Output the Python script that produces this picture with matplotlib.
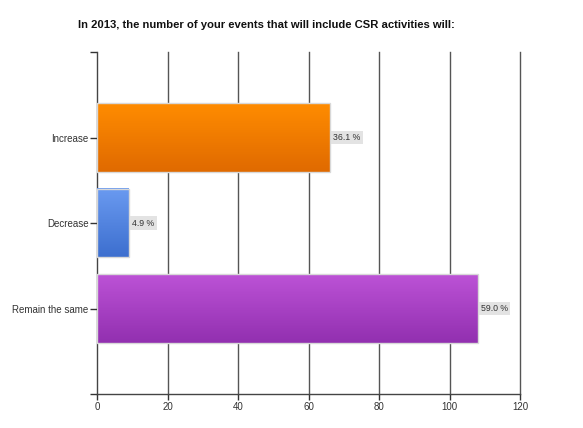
import numpy as np
import matplotlib
matplotlib.use("Agg")
import matplotlib.pyplot as plt
from matplotlib.colors import LinearSegmentedColormap

plt.rcParams['font.family'] = ['Liberation Sans', 'DejaVu Sans']

# data
categories = ['Increase', 'Decrease', 'Remain the same']
counts = [66, 9, 108]
pct_labels = ['36.1 %', '4.9 %', '59.0 %']
xticks = [0, 20, 40, 60, 80, 100, 120]

# gradient colours (top, bottom) per bar
bar_colors = [('#ff8c00', '#e06a00'),
              ('#6a9af0', '#3d6fcf'),
              ('#bc52d6', '#9230b0')]

fig = plt.figure(figsize=(5.83, 4.28), dpi=100)
ax = fig.add_axes([0.1664, 0.0794, 0.7256, 0.799])

ypos = np.arange(1, len(categories) + 1)
h = 0.8
grad = np.linspace(0, 1, 64).reshape(-1, 1)

for i, (y, v) in enumerate(zip(ypos, counts)):
    top, bot = bar_colors[i]
    cmap = LinearSegmentedColormap.from_list('g%d' % i, [top, bot])
    # y axis inverted: y-h/2 is the top of the bar
    ax.imshow(grad, cmap=cmap, aspect='auto', zorder=3,
              extent=[0, v, y + h/2, y - h/2], origin='upper')
    ax.barh(y, v, height=h, facecolor='none', edgecolor='#d8d8d8', lw=1, zorder=4)
    ax.text(v + 1, y, pct_labels[i], va='center', ha='left', fontsize=6.3,
            color='#333333', zorder=5,
            bbox=dict(boxstyle='square,pad=0.25', fc='#e3e3e3', ec='none'))

ax.set_xlim(0, 120)
ax.set_ylim(4, 0)
ax.set_xticks(xticks)
ax.set_yticks(ypos)
ax.set_yticks([0, 4], minor=True)
ax.set_yticklabels(categories)
ax.tick_params(axis='both', which='both', labelsize=7, colors='#333333', length=5, width=1)
ax.tick_params(axis='y', pad=1)
ax.tick_params(axis='x', length=4, pad=2)

for x in xticks[1:]:
    ax.axvline(x, color='#555555', lw=1, zorder=1, clip_on=False)

for s in ['top', 'right']:
    ax.spines[s].set_visible(False)
for s in ['left', 'bottom']:
    ax.spines[s].set_color('#444444')
    ax.spines[s].set_linewidth(1)

fig.text(266/583, 1 - 25/428, 'In 2013, the number of your events that will include CSR activities will:',
         ha='center', va='center', fontsize=8.1, fontweight='bold', color='#111111')

fig.savefig('out.png', dpi=100)
